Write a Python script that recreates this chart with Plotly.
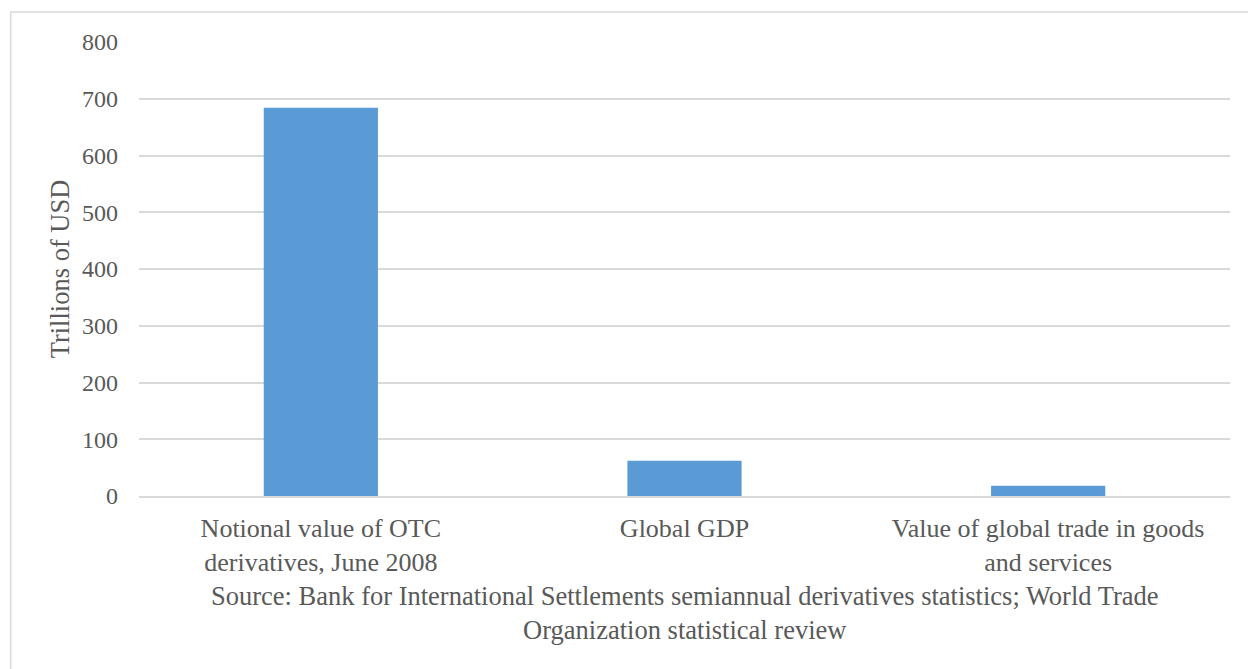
import plotly.graph_objects as go

categories = [
    "Notional value of OTC<br>derivatives, June 2008",
    "Global GDP",
    "Value of global trade in goods<br>and services",
]
values = [684, 62, 18]
y_ticks = [0, 100, 200, 300, 400, 500, 600, 700, 800]
y_title = "Trillions of USD"
source_text = ("Source: Bank for International Settlements semiannual derivatives statistics; World Trade"
               "<br>Organization statistical review")

FONT = "'Times New Roman', 'Liberation Serif', Tinos, 'DejaVu Serif', serif"
TXT = "#595959"
GRID = "#d9d9d9"

fig = go.Figure(
    go.Bar(
        x=categories,
        y=values,
        marker=dict(color="#5b9bd5", line=dict(width=0)),
        width=0.314,
        hoverinfo="x+y",
    )
)

fig.update_layout(
    width=1248,
    height=669,
    margin=dict(l=139, r=18, t=42, b=173),
    paper_bgcolor="white",
    plot_bgcolor="white",
    showlegend=False,
    font=dict(family=FONT, color=TXT, size=24),
)

fig.update_xaxes(
    showgrid=False,
    showline=True,
    linecolor=GRID,
    linewidth=2,
    ticks="",
    tickfont=dict(family=FONT, size=26, color=TXT),
    ticklabelstandoff=8,
    zeroline=False,
)

fig.update_yaxes(
    range=[0, 800],
    tickvals=y_ticks,
    showgrid=True,
    gridcolor=GRID,
    gridwidth=1.5,
    zeroline=False,
    showline=False,
    ticks="",
    tickfont=dict(family=FONT, size=24, color=TXT),
    ticklabelstandoff=20,
    title=dict(text=y_title, font=dict(family=FONT, size=26.5, color=TXT), standoff=4),
)

fig.add_annotation(
    text=source_text,
    xref="paper", yref="paper",
    x=0.5, y=-0.1834,
    xanchor="center", yanchor="top",
    showarrow=False,
    font=dict(family=FONT, size=26.5, color=TXT),
    align="center",
)

# outer chart border
fig.add_shape(
    type="rect",
    xref="paper", yref="paper",
    x0=(11 - 139.25) / 1090.5, x1=1.05,
    y0=-0.5, y1=1 + 30 / 454,
    line=dict(color=GRID, width=1.5),
    fillcolor="rgba(0,0,0,0)",
    layer="below",
)

fig.write_html("out.html")
